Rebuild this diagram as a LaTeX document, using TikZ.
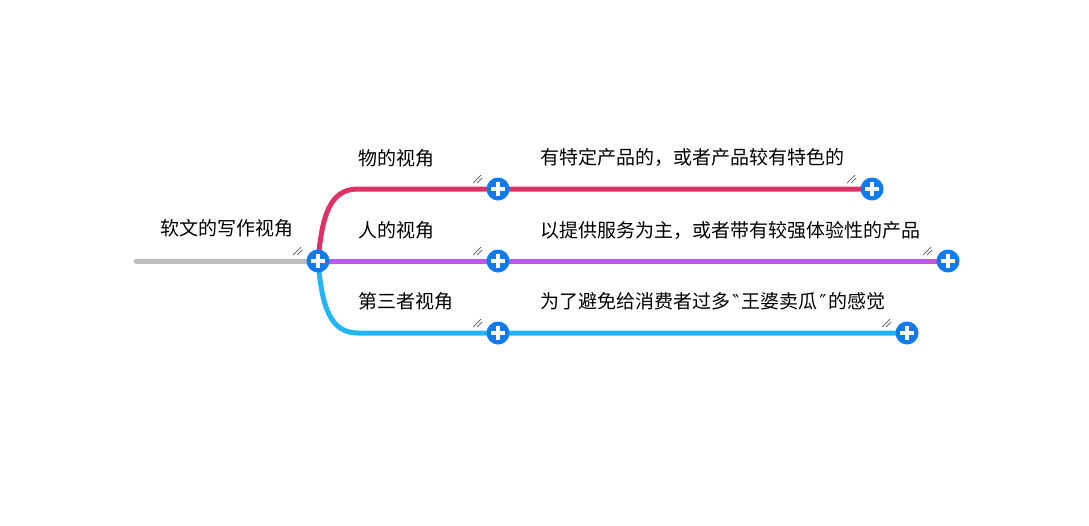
\documentclass[tikz,border=0pt]{standalone}
\usepackage{fontspec}
\usetikzlibrary{backgrounds}
\setmainfont{Noto Sans CJK SC}
\newfontfamily\qfont{DejaVu Sans}
\definecolor{rootgray}{RGB}{190,190,190}
\definecolor{cred}{RGB}{222,50,102}
\definecolor{cpurple}{RGB}{190,86,240}
\definecolor{cblue}{RGB}{35,182,246}
\definecolor{plusblue}{RGB}{16,122,240}
\definecolor{markgray}{RGB}{90,90,90}
\begin{document}
\begin{tikzpicture}[x=1pt,y=-1pt,
  plusnode/.style={circle,fill=plusblue,minimum size=23pt,inner sep=0pt,
    path picture={
      \fill[white] ([xshift=-7pt,yshift=-1.8pt]path picture bounding box.center) rectangle ([xshift=7pt,yshift=1.8pt]path picture bounding box.center);
      \fill[white] ([xshift=-1.8pt,yshift=-7pt]path picture bounding box.center) rectangle ([xshift=1.8pt,yshift=7pt]path picture bounding box.center);
    }},
  txt/.style={anchor=west,inner sep=0pt,font=\fontsize{19pt}{22pt}\selectfont,text=black},
  branch/.style={line width=5pt,line cap=round},
  hmark/.style={draw=markgray,line width=0.7pt}
]
\useasboundingbox (0,0) rectangle (1089,525);
\coordinate (start) at (136,261);
\coordinate (rt) at (358,189);
\coordinate (rb) at (358,333);

% plus nodes
\node[plusnode] (root) at (318,261) {};
\node[plusnode] (a) at (498,189) {};
\node[plusnode] (b) at (498,261) {};
\node[plusnode] (c) at (498,333) {};
\node[plusnode] (a2) at (872,189) {};
\node[plusnode] (b2) at (948,261) {};
\node[plusnode] (c2) at (907,333) {};

% connectors behind the plus icons
\begin{pgfonlayer}{background}
\draw[branch,rootgray] (start) -- (root.center);
\draw[branch,cred] (root.center) .. controls (322,215) and (330,189) .. (rt) -- (a.center) -- (a2.center);
\draw[branch,cpurple] (root.center) -- (b.center) -- (b2.center);
\draw[branch,cblue] (root.center) .. controls (322,307) and (330,333) .. (rb) -- (c.center) -- (c2.center);
\end{pgfonlayer}

% resize marks
\foreach \n in {root,a,b,c,a2,b2,c2}{
  \draw[hmark] ([shift={(-25,-6)}]\n.center) -- ++(8,-8);
  \draw[hmark] ([shift={(-21,-6)}]\n.center) -- ++(5,-5);
}

% labels
\node[txt] (troot) at (160,228) {软文的写作视角};
\node[txt] (ta) at (358,158) {物的视角};
\node[txt] (tb) at (358,230) {人的视角};
\node[txt] (tc) at (358,301) {第三者视角};
\node[txt] (ta2) at (540,157) {有特定产品的，或者产品较有特色的};
\node[txt] (tb2) at (540,230) {以提供服务为主，或者带有较强体验性的产品};
\node[txt] (tc2) at (540,301) {为了避免给消费者过多\hspace{2pt}{\qfont ‶}\hspace{2pt}王婆卖瓜\hspace{2pt}{\qfont ″}\hspace{2pt}的感觉};
\end{tikzpicture}
\end{document}
